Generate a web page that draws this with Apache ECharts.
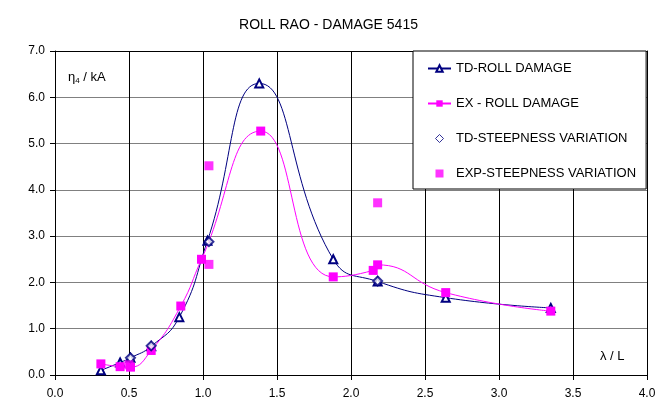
<!DOCTYPE html>
<html>
<head>
<meta charset="utf-8">
<script src="https://cdn.jsdelivr.net/npm/echarts@6/dist/echarts.min.js"></script>
<style>
html,body{margin:0;padding:0;background:#fff;}
#c{width:657px;height:397px;}
</style>
</head>
<body>
<div id="c"></div>
<script>
// ---- data ----
var titleText = 'ROLL RAO - DAMAGE 5415';
var seriesNames = ['TD-ROLL DAMAGE', 'EX - ROLL DAMAGE', 'TD-STEEPNESS VARIATION', 'EXP-STEEPNESS VARIATION'];

var tdRollX = [0.31, 0.44, 0.51, 0.65, 0.84, 1.03, 1.38, 1.88, 2.18, 2.64, 3.35];
var tdRollY = [0.10, 0.27, 0.37, 0.62, 1.25, 2.90, 6.30, 2.50, 2.02, 1.67, 1.45];

var exRollX = [0.31, 0.44, 0.51, 0.65, 0.85, 0.99, 1.39, 1.88, 2.15, 2.18, 2.64, 3.35];
var exRollY = [0.24, 0.18, 0.17, 0.53, 1.49, 2.50, 5.27, 2.12, 2.26, 2.38, 1.78, 1.38];

var tdSteepX = [0.51, 0.65, 1.04, 2.18];
var tdSteepY = [0.37, 0.63, 2.88, 2.03];

var expSteepX = [0.50, 1.04, 1.04, 2.18];
var expSteepY = [0.22, 4.52, 2.39, 3.72];

var xTicks = {min: 0, max: 4, step: 0.5};
var yTicks = {min: 0, max: 7, step: 1};

function pairs(xs, ys) { return xs.map(function (x, i) { return [x, ys[i]]; }); }

var FONT = '"Liberation Sans", Arial, sans-serif';
var NAVY = '#000080', MAG = '#ff00ff';
var DIAMOND_ICON = 'path://M5,0L10,5L5,10L0,5Z';
var SQUARE_ICON = 'path://M0,0L10,0L10,10L0,10Z';

var chart = echarts.init(document.getElementById('c'), null, {renderer: 'canvas'});
chart.setOption({
  animation: false,
  backgroundColor: '#ffffff',
  title: {
    text: titleText, left: 'center', top: 13,
    textStyle: {fontFamily: FONT, fontSize: 14, fontWeight: 'normal', color: '#000'}
  },
  grid: {left: 55, right: 10, top: 51, bottom: 22, containLabel: false, outerBoundsMode: 'none'},
  legend: {
    orient: 'vertical', left: 413, top: 51,
    backgroundColor: '#ffffff', borderColor: '#000', borderWidth: 1,
    padding: [11, 10, 9, 14],
    itemWidth: 23, itemHeight: 8, itemGap: 22,
    symbolKeepAspect: true,
    textStyle: {fontFamily: FONT, fontSize: 13, color: '#000'},
    data: [
      {name: seriesNames[0]},
      {name: seriesNames[1]},
      {name: seriesNames[2], icon: DIAMOND_ICON,
       itemStyle: {color: '#ffffff', borderColor: NAVY, borderWidth: 1}},
      {name: seriesNames[3], icon: SQUARE_ICON, itemStyle: {color: MAG}}
    ]
  },
  xAxis: [{
    type: 'value', min: xTicks.min, max: xTicks.max, interval: xTicks.step,
    axisLine: {show: true, lineStyle: {color: '#000', width: 1}},
    axisTick: {show: true, inside: false, length: 5, lineStyle: {color: '#000'}},
    axisLabel: {fontFamily: FONT, fontSize: 12, color: '#000', margin: 13,
      formatter: function (v) { return v.toFixed(1); }},
    splitLine: {show: true, lineStyle: {color: '#000', width: 1}}
  }, {
    type: 'value', position: 'top', min: xTicks.min, max: xTicks.max,
    axisLine: {show: true, onZero: false, lineStyle: {color: '#000'}},
    axisTick: {show: false}, axisLabel: {show: false}, splitLine: {show: false}
  }],
  yAxis: [{
    type: 'value', min: yTicks.min, max: yTicks.max, interval: yTicks.step,
    axisLine: {show: true, lineStyle: {color: '#000', width: 1}},
    axisTick: {show: true, inside: false, length: 5, lineStyle: {color: '#000'}},
    axisLabel: {fontFamily: FONT, fontSize: 12, color: '#000', margin: 10,
      formatter: function (v) { return v.toFixed(1); }},
    splitLine: {show: true, lineStyle: {color: '#808080', width: 1}}
  }, {
    type: 'value', position: 'right', min: yTicks.min, max: yTicks.max,
    axisLine: {show: true, onZero: false, lineStyle: {color: '#000'}},
    axisTick: {show: false}, axisLabel: {show: false}, splitLine: {show: false}
  }],
  graphic: [
    {type: 'text', left: 68, top: 71, style: {
      text: '{a|η}{s|4}{a| / kA}',
      rich: {a: {fontFamily: FONT, fontSize: 13, fill: '#000'},
             s: {fontFamily: FONT, fontSize: 8, fill: '#000', padding: [6, 0, 0, 0]}}
    }},
    {type: 'text', left: 600, top: 350, style: {
      text: 'λ / L', font: '13px ' + FONT, fill: '#000'
    }}
  ],
  series: [{
    name: seriesNames[0], type: 'line', smooth: 0.5,
    data: pairs(tdRollX, tdRollY),
    symbol: 'emptyTriangle', symbolSize: 8,
    lineStyle: {color: NAVY, width: 1}, itemStyle: {color: NAVY}, z: 3
  }, {
    name: seriesNames[1], type: 'line', smooth: 0.5,
    data: pairs(exRollX, exRollY),
    symbol: 'rect', symbolSize: 9,
    lineStyle: {color: MAG, width: 1}, itemStyle: {color: MAG}, z: 4
  }, {
    name: seriesNames[2], type: 'scatter',
    data: pairs(tdSteepX, tdSteepY),
    symbol: 'emptyDiamond', symbolSize: 9,
    itemStyle: {color: NAVY, borderColor: NAVY, borderWidth: 1}, z: 5
  }, {
    name: seriesNames[3], type: 'scatter',
    data: pairs(expSteepX, expSteepY),
    symbol: 'rect', symbolSize: 9,
    itemStyle: {color: MAG}, z: 6
  }]
});
</script>
</body>
</html>
